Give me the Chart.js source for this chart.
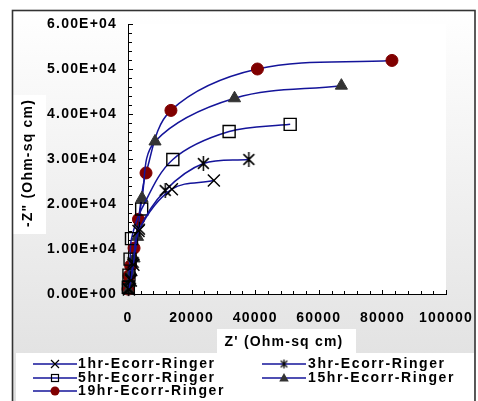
<!DOCTYPE html>
<html>
<head>
<meta charset="utf-8">
<script src="https://cdn.jsdelivr.net/npm/chart.js@4.4.1/dist/chart.umd.min.js"></script>
<style>
  html, body { margin: 0; padding: 0; background: #ffffff; }
  #wrap { width: 478px; height: 401px; }
</style>
</head>
<body>
<div id="wrap"><canvas id="c" width="478" height="401"></canvas></div>
<script>
// Nyquist data: Z' (real) and -Z" (imaginary), Ohm-sq cm
const seriesNames = ['1hr-Ecorr-Ringer', '3hr-Ecorr-Ringer', '5hr-Ecorr-Ringer', '15hr-Ecorr-Ringer', '19hr-Ecorr-Ringer'];

const zRe1hr  = [300, 900, 1700, 3300, 13800, 27000];
const zIm1hr  = [1000, 3000, 6500, 14000, 23300, 25200];

const zRe3hr  = [200, 800, 1600, 3600, 11700, 23700, 38000];
const zIm3hr  = [1200, 3400, 7000, 14400, 23000, 29000, 29900];

const zRe5hr  = [100, 300, 650, 1100, 4300, 14100, 31800, 51000];
const zIm5hr  = [1500, 4200, 7750, 12300, 18900, 29900, 36100, 37700];

const zRe15hr = [100, 400, 1000, 1900, 3000, 4400, 8500, 33500, 67100];
const zIm15hr = [800, 2400, 4800, 7900, 12700, 21300, 33900, 43500, 46300];

const zRe19hr = [0, 100, 320, 840, 1900, 3300, 5670, 13500, 40700, 83000];
const zIm19hr = [1100, 2200, 4050, 6270, 10200, 16600, 26900, 40800, 50000, 51900];

const xAxisTitle = "Z' (Ohm-sq cm)";
const yAxisTitle = '-Z" (Ohm-sq cm)';

const toPoints = (xs, ys) => xs.map((x, i) => ({ x: x, y: ys[i] }));

// Excel-style scientific notation, e.g. 6.00E+04
function sci(v) {
  const parts = Number(v).toExponential(2).split('e');
  const exp = parseInt(parts[1], 10);
  const sign = exp < 0 ? '-' : '+';
  const digits = String(Math.abs(exp)).padStart(2, '0');
  return parts[0] + 'E' + sign + digits;
}

// asterisk marker: an X with a vertical stroke
function makeAsterisk(size, lw) {
  const cv = document.createElement('canvas');
  cv.width = size; cv.height = size;
  const g = cv.getContext('2d');
  const c = size / 2, r = size / 2 - 1;
  const d = r * 0.72;
  g.strokeStyle = '#000000';
  g.lineWidth = lw;
  g.beginPath();
  g.moveTo(c - d, c - d); g.lineTo(c + d, c + d);
  g.moveTo(c + d, c - d); g.lineTo(c - d, c + d);
  g.moveTo(c, c - r); g.lineTo(c, c + r);
  g.stroke();
  return cv;
}
const asteriskBig = makeAsterisk(17, 1.5);
const asteriskSmall = makeAsterisk(11, 1.2);

const LINE = '#14149a';
const FAMILY = '"Liberation Sans", Arial, sans-serif';
const FONT = 'bold 14px ' + FAMILY;

const common = {
  showLine: true,
  borderColor: LINE,
  borderWidth: 1.5,
  tension: 0.35,
  clip: false
};

const datasets = [
  Object.assign({}, common, {
    label: seriesNames[0], data: toPoints(zRe1hr, zIm1hr),
    pointStyle: 'crossRot', pointRadius: 8.5, pointBorderColor: '#000000', pointBorderWidth: 1.4,
    pointBackgroundColor: '#000000',
    legendMarker: { kind: 'x', size: 4 }
  }),
  Object.assign({}, common, {
    label: seriesNames[1], data: toPoints(zRe3hr, zIm3hr),
    pointStyle: asteriskBig, pointRadius: 8,
    legendMarker: { kind: 'img', img: asteriskSmall }
  }),
  Object.assign({}, common, {
    label: seriesNames[2], data: toPoints(zRe5hr, zIm5hr),
    pointStyle: 'rect', pointRadius: 8.5, pointBorderColor: '#000000', pointBorderWidth: 1.4,
    pointBackgroundColor: 'rgba(0,0,0,0)',
    legendMarker: { kind: 'sq', size: 3.5 }
  }),
  Object.assign({}, common, {
    label: seriesNames[3], data: toPoints(zRe15hr, zIm15hr),
    pointStyle: 'triangle', pointRadius: 7, pointBorderColor: '#333333', pointBorderWidth: 1,
    pointBackgroundColor: '#333333',
    legendMarker: { kind: 'tri', size: 5 }
  }),
  Object.assign({}, common, {
    label: seriesNames[4], data: toPoints(zRe19hr, zIm19hr),
    pointStyle: 'circle', pointRadius: 6, pointBorderColor: '#800000', pointBorderWidth: 1,
    pointBackgroundColor: '#800000',
    legendMarker: { kind: 'dot', size: 4.5 }
  })
];

// frame geometry
const FRAME = { l: 12.5, t: 10.5, r: 475, b: 410 };

function drawLegendMarker(ctx, m, x, y) {
  ctx.save();
  ctx.lineWidth = 1.2;
  if (m.kind === 'x') {
    ctx.strokeStyle = '#000';
    ctx.beginPath();
    ctx.moveTo(x - m.size, y - m.size); ctx.lineTo(x + m.size, y + m.size);
    ctx.moveTo(x + m.size, y - m.size); ctx.lineTo(x - m.size, y + m.size);
    ctx.stroke();
  } else if (m.kind === 'img') {
    ctx.drawImage(m.img, x - m.img.width / 2, y - m.img.height / 2);
  } else if (m.kind === 'sq') {
    ctx.strokeStyle = '#000';
    ctx.strokeRect(x - m.size, y - m.size, m.size * 2, m.size * 2);
  } else if (m.kind === 'tri') {
    ctx.fillStyle = '#333333';
    ctx.beginPath();
    ctx.moveTo(x, y - m.size);
    ctx.lineTo(x + m.size * 0.95, y + m.size * 0.7);
    ctx.lineTo(x - m.size * 0.95, y + m.size * 0.7);
    ctx.closePath();
    ctx.fill();
  } else if (m.kind === 'dot') {
    ctx.fillStyle = '#800000';
    ctx.beginPath();
    ctx.arc(x, y, m.size, 0, Math.PI * 2);
    ctx.fill();
  }
  ctx.restore();
}

const framePlugin = {
  id: 'frame',
  beforeDraw(chart) {
    const ctx = chart.ctx;
    ctx.letterSpacing = '1.2px';
    const a = chart.chartArea;
    ctx.save();
    ctx.fillStyle = '#ffffff';
    ctx.fillRect(0, 0, chart.width, chart.height);
    const grad = ctx.createLinearGradient(0, FRAME.t, 0, 401);
    grad.addColorStop(0, '#ffffff');
    grad.addColorStop(1, '#dfdfdf');
    ctx.fillStyle = grad;
    ctx.fillRect(FRAME.l, FRAME.t, FRAME.r - FRAME.l, FRAME.b - FRAME.t);
    // plot area
    ctx.fillStyle = '#ffffff';
    ctx.fillRect(a.left, a.top, a.right - a.left, a.bottom - a.top);
    // title boxes and legend box
    ctx.fillRect(13, 95, 33, 139);
    ctx.fillRect(217, 329, 139, 25);
    ctx.fillRect(16, 353, 458, 60);
    // outer frame
    ctx.strokeStyle = '#333333';
    ctx.lineWidth = 1.6;
    ctx.strokeRect(FRAME.l, FRAME.t, FRAME.r - FRAME.l, FRAME.b - FRAME.t);
    ctx.restore();
  },
  beforeDatasetsDraw(chart) {
    // tick marks drawn inward from both axes
    const ctx = chart.ctx;
    const xs = chart.scales.x, ys = chart.scales.y;
    const a = chart.chartArea;
    ctx.save();
    ctx.strokeStyle = '#000000';
    ctx.lineWidth = 1;
    ctx.beginPath();
    for (let v = 0; v <= 60000; v += 2000) {
      const py = Math.round(ys.getPixelForValue(v)) + 0.5;
      const len = v % 10000 === 0 ? 5 : 4;
      ctx.moveTo(a.left, py); ctx.lineTo(a.left + len, py);
    }
    for (let v = 0; v <= 100000; v += 4000) {
      const px = Math.round(xs.getPixelForValue(v)) + 0.5;
      const len = v % 20000 === 0 ? 4 : 3;
      ctx.moveTo(px, a.bottom); ctx.lineTo(px, a.bottom - len);
    }
    ctx.stroke();
    ctx.restore();
  },
  afterDraw(chart) {
    const ctx = chart.ctx;
    ctx.save();
    ctx.font = FONT;
    ctx.fillStyle = '#000000';
    ctx.textBaseline = 'middle';
    // axis titles
    ctx.textAlign = 'center';
    ctx.fillText(xAxisTitle, 284, 342);
    ctx.save();
    ctx.translate(28, 163);
    ctx.rotate(-Math.PI / 2);
    ctx.fillText(yAxisTitle, 0, 0);
    ctx.restore();
    // legend: two columns
    ctx.letterSpacing = '1.6px';
    const cols = [{ x0: 33, x1: 77, tx: 78 }, { x0: 262, x1: 306, tx: 308 }];
    const rows = [364, 378, 391];
    ctx.textAlign = 'left';
    chart.data.datasets.forEach((ds, i) => {
      const c = cols[i % 2], y = rows[Math.floor(i / 2)];
      ctx.strokeStyle = LINE;
      ctx.lineWidth = 1.5;
      ctx.beginPath();
      ctx.moveTo(c.x0, y); ctx.lineTo(c.x1, y);
      ctx.stroke();
      drawLegendMarker(ctx, ds.legendMarker, (c.x0 + c.x1) / 2, y);
      ctx.fillStyle = '#000000';
      ctx.fillText(ds.label, c.tx, y + 0.5);
    });
    ctx.restore();
  }
};

new Chart(document.getElementById('c'), {
  type: 'scatter',
  data: { datasets: datasets },
  options: {
    responsive: false,
    animation: false,
    devicePixelRatio: 1,
    layout: { padding: { left: 0, right: 32, top: 24, bottom: 0 } },
    plugins: { legend: { display: false }, tooltip: { enabled: false } },
    scales: {
      x: {
        type: 'linear', min: 0, max: 100000,
        afterFit(s) { s.height = 107; s.paddingLeft = 0; s.paddingRight = 0; },
        grid: { display: false, drawTicks: false },
        border: { display: true, color: '#000000', width: 1 },
        ticks: {
          stepSize: 20000, padding: 16, color: '#000000', maxRotation: 0,
          font: { family: FAMILY, size: 14, weight: 'bold' },
          callback: (v) => String(v)
        }
      },
      y: {
        type: 'linear', min: 0, max: 60000,
        afterFit(s) { s.width = 128; s.paddingTop = 0; s.paddingBottom = 0; },
        grid: { display: false, drawTicks: false },
        border: { display: true, color: '#000000', width: 1 },
        ticks: {
          stepSize: 10000, padding: 11, color: '#000000',
          font: { family: FAMILY, size: 14, weight: 'bold' },
          callback: (v) => sci(v)
        }
      }
    }
  },
  plugins: [framePlugin]
});
</script>
</body>
</html>
